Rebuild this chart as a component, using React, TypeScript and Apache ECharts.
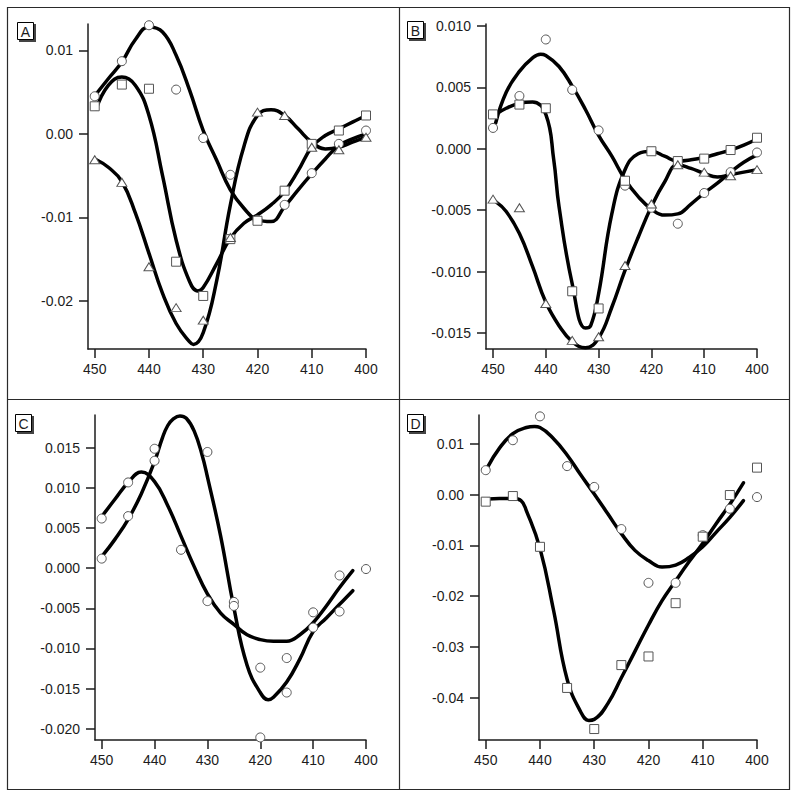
import React, { useEffect, useRef } from "react";
import * as echarts from "echarts";

// ---------- data ----------
const wavelengths = [450, 445, 440, 435, 430, 425, 420, 415, 410, 405, 400];
const xTicks = [450, 440, 430, 420, 410, 400];

// Panel A
const aCircles = [0.0045, 0.0087, 0.013, 0.0053, -0.0005, -0.0049, -0.0103, -0.0085, -0.0047, -0.0012, 0.0004];
const aSquares = [0.0033, 0.0059, 0.0054, -0.0153, -0.0194, -0.0126, -0.0104, -0.0068, -0.0012, 0.0004, 0.0022];
const aTriangles = [-0.0031, -0.0058, -0.0159, -0.0208, -0.0223, -0.0124, 0.0026, 0.0022, -0.0016, -0.0019, -0.0004];
const aFitCircle = [[449.7, 0.0048], [447.5, 0.0066], [445, 0.0086], [442.5, 0.0113], [440, 0.0128], [437.5, 0.0122], [435, 0.0094], [432.5, 0.0052], [430, 0.0004], [427.5, -0.0032], [425, -0.0067], [422.5, -0.0089], [420, -0.0103], [417.5, -0.0105], [415, -0.0087], [412.5, -0.0067], [410, -0.0048], [407.5, -0.003], [405, -0.0014], [402.5, -0.0006], [400, 0.0]];
const aFitSquare = [[449.7, 0.003], [447.5, 0.0058], [445, 0.0068], [442.5, 0.0058], [440, 0.0022], [437.5, -0.005], [435, -0.0127], [432.5, -0.0177], [431, -0.0188], [430, -0.0184], [427.5, -0.0155], [425, -0.0125], [422.5, -0.0107], [420, -0.0097], [417.5, -0.0085], [415, -0.0069], [412.5, -0.0044], [410, -0.0016], [407.5, -0.0002], [405, 0.0006], [402.5, 0.0014], [400, 0.0022]];
const aFitTriangle = [[449.7, -0.0031], [447.5, -0.004], [445, -0.0057], [442.5, -0.0095], [440, -0.0143], [437.5, -0.0191], [435, -0.0227], [432.5, -0.0249], [431.8, -0.0252], [430, -0.0238], [427.5, -0.0175], [425, -0.0085], [422.5, -0.0015], [420, 0.0022], [417.5, 0.0029], [415, 0.0022], [412.5, 0.0006], [410, -0.001], [407.5, -0.0018], [405, -0.0016], [402.5, -0.001], [400, -0.0004]];

// Panel B
const bCircles = [0.0017, 0.0043, 0.0089, 0.0048, 0.0015, -0.003, -0.0048, -0.0061, -0.0036, -0.0019, -0.0003];
const bSquares = [0.0028, 0.0036, 0.0033, -0.0116, -0.013, -0.0026, -0.0002, -0.001, -0.0008, -0.0001, 0.0009];
const bTriangles = [-0.0041, -0.0048, -0.0126, -0.0156, -0.0153, -0.0095, -0.0045, -0.0013, -0.0019, -0.0022, -0.0017];
const bFitCircle = [[449.5, 0.0021], [447.5, 0.0046], [445, 0.0063], [442.5, 0.0074], [441, 0.0077], [440, 0.0076], [437.5, 0.0067], [435, 0.0051], [432.5, 0.0032], [430, 0.0011], [427.5, -0.0006], [425, -0.0025], [422.5, -0.0039], [420, -0.0049], [417.5, -0.0054], [415, -0.0053], [412.5, -0.0045], [410, -0.0036], [407.5, -0.0028], [405, -0.0019], [402.5, -0.0011], [400, -0.0005]];
const bFitSquare = [[449.5, 0.0028], [447.5, 0.0033], [445, 0.0037], [442.5, 0.0038], [440, 0.0028], [438.5, -0.0009], [437.5, -0.0047], [435, -0.011], [432.5, -0.0146], [431.5, -0.0144], [430, -0.0118], [427.5, -0.0053], [425, -0.0017], [422.5, -0.0004], [420, -0.0002], [417.5, -0.0006], [415, -0.001], [412.5, -0.0009], [410, -0.0007], [407.5, -0.0004], [405, -0.0001], [402.5, 0.0003], [400, 0.0008]];
const bFitTriangle = [[449.5, -0.0043], [447.5, -0.0051], [445, -0.0069], [442.5, -0.0096], [440, -0.0125], [437.5, -0.0144], [435, -0.0157], [432.5, -0.0162], [430, -0.0154], [427.5, -0.0129], [425, -0.0099], [422.5, -0.0072], [420, -0.0047], [417.5, -0.0027], [415, -0.0013], [412.5, -0.0016], [410, -0.002], [407.5, -0.0023], [405, -0.0021], [402.5, -0.0019], [400, -0.0017]];

// Panel C
const cSet1 = [0.0062, 0.0107, 0.0134, 0.0023, -0.0041, -0.0042, -0.0124, -0.0112, -0.0055, -0.0009, -0.0001];
const cSet2 = [0.0012, 0.0065, 0.0149, null, 0.0145, -0.0047, -0.0211, -0.0155, -0.0074, -0.0054, null];
const cFit1 = [[449.7, 0.0067], [447.5, 0.0086], [445, 0.0107], [442.5, 0.012], [440, 0.0108], [437.5, 0.0078], [435, 0.004], [432.5, 0.0002], [430, -0.0032], [427.5, -0.0056], [425, -0.007], [422.5, -0.0083], [420, -0.0089], [417.5, -0.0091], [415, -0.0091], [412.5, -0.0083], [410, -0.0068], [407.5, -0.0047], [405, -0.0024], [402.5, -0.0003]];
const cFit2 = [[449.7, 0.0017], [447.5, 0.0036], [445, 0.0061], [442.5, 0.0093], [440, 0.0133], [438.5, 0.0163], [437.5, 0.0178], [436.5, 0.0186], [435.2, 0.019], [434, 0.0187], [432.5, 0.0171], [431, 0.0141], [430, 0.0114], [427.5, 0.004], [425, -0.0049], [422.5, -0.0121], [420, -0.0155], [418.5, -0.0164], [417.5, -0.0161], [415, -0.0142], [412.5, -0.0113], [410, -0.0079], [407.5, -0.0062], [405, -0.0045], [402.5, -0.0028]];

// Panel D
const dCircles = [0.0048, 0.0107, 0.0154, 0.0056, 0.0015, -0.0068, -0.0174, -0.0174, -0.008, -0.0028, -0.0005];
const dSquares = [-0.0014, -0.0003, -0.0103, -0.0381, -0.0462, -0.0336, -0.0319, -0.0214, -0.0083, -0.0001, 0.0053];
const dFitCircle = [[449.6, 0.0055], [447.5, 0.0091], [445, 0.012], [442.5, 0.0132], [441, 0.0134], [440, 0.0132], [437.5, 0.011], [435, 0.0078], [432.5, 0.0039], [430, 0.0001], [427.5, -0.0038], [425, -0.0077], [422.5, -0.011], [420, -0.013], [417.5, -0.0143], [415, -0.0139], [412.5, -0.0124], [410, -0.0103], [407.5, -0.0074], [405, -0.0045], [402.5, -0.0012]];
const dFitSquare = [[449.6, -0.0009], [447.5, -0.0008], [445, -0.0008], [443.5, -0.0012], [442.5, -0.0032], [440, -0.0106], [437.5, -0.0228], [435, -0.0364], [432.5, -0.0428], [431, -0.0445], [430, -0.0443], [427.5, -0.0412], [425, -0.0361], [422.5, -0.0309], [420, -0.0257], [417.5, -0.0209], [415, -0.017], [412.5, -0.0132], [410, -0.0096], [407.5, -0.0057], [405, -0.0019], [402.5, 0.0023]];

const panelLabels = ["A", "B", "C", "D"];
const aYTicks = [-0.02, -0.01, 0, 0.01];
const bYTicks = [-0.015, -0.01, -0.005, 0, 0.005, 0.01];
const cYTicks = [-0.02, -0.015, -0.01, -0.005, 0, 0.005, 0.01, 0.015];
const dYTicks = [-0.04, -0.03, -0.02, -0.01, 0, 0.01];

const FONT = "'Liberation Sans', Arial, Helvetica, sans-serif";
const INK = "#1c1c1c";

function pairs(ys: (number | null)[]) {
  const out: number[][] = [];
  ys.forEach((y, i) => {
    if (y !== null && y !== undefined) out.push([wavelengths[i], y]);
  });
  return out;
}

export default function App() {
  const ref = useRef<HTMLDivElement>(null);

  useEffect(() => {
    if (!ref.current) return;
    const chart = echarts.init(ref.current, null, { renderer: "svg" });

    const panels = [
      {
        grid: { left: 88, top: 24, width: 278, height: 325 },
        xMax: 451.24, yMin: -0.02575, yMax: 0.01315, yTicks: aYTicks, dec: 2,
        fits: [aFitCircle, aFitSquare, aFitTriangle],
        marks: [
          { data: aCircles, symbol: "circle" },
          { data: aSquares, symbol: "rect" },
          { data: aTriangles, symbol: "triangle" },
        ],
        box: [17, 22],
      },
      {
        grid: { left: 486, top: 24, width: 271, height: 325 },
        xMax: 451.33, yMin: -0.0163, yMax: 0.01016, yTicks: bYTicks, dec: 3,
        fits: [bFitCircle, bFitSquare, bFitTriangle],
        marks: [
          { data: bCircles, symbol: "circle" },
          { data: bSquares, symbol: "rect" },
          { data: bTriangles, symbol: "triangle" },
        ],
        box: [407, 21],
      },
      {
        grid: { left: 95, top: 415, width: 271, height: 325 },
        xMax: 451.27, yMin: -0.02142, yMax: 0.01911, yTicks: cYTicks, dec: 3,
        fits: [cFit1, cFit2],
        marks: [
          { data: cSet1, symbol: "circle" },
          { data: cSet2, symbol: "circle" },
        ],
        box: [15, 414],
      },
      {
        grid: { left: 479, top: 415, width: 278, height: 325 },
        xMax: 451.24, yMin: -0.04836, yMax: 0.01567, yTicks: dYTicks, dec: 2,
        fits: [dFitCircle, dFitSquare],
        marks: [
          { data: dCircles, symbol: "circle" },
          { data: dSquares, symbol: "rect" },
        ],
        box: [407, 414],
      },
    ];

    const axisLineStyle = { color: INK, width: 1.5 };
    const labelStyle = { fontSize: 14, fontFamily: FONT, color: INK };

    const grids: any[] = [];
    const xAxes: any[] = [];
    const yAxes: any[] = [];
    const series: any[] = [];
    const graphics: any[] = [];

    panels.forEach((p, i) => {
      grids.push({ ...p.grid, containLabel: false });
      xAxes.push({
        gridIndex: i,
        type: "value",
        min: 400,
        max: p.xMax,
        inverse: true,
        axisLine: { show: true, onZero: false, lineStyle: axisLineStyle },
        axisTick: { show: true, inside: false, length: 9, customValues: xTicks, lineStyle: axisLineStyle },
        axisLabel: { ...labelStyle, margin: 13, customValues: xTicks, formatter: (v: number) => String(Math.round(v)) },
        splitLine: { show: false },
      });
      yAxes.push({
        gridIndex: i,
        type: "value",
        min: p.yMin,
        max: p.yMax,
        axisLine: { show: true, onZero: false, lineStyle: axisLineStyle },
        axisTick: { show: true, inside: false, length: 9, customValues: p.yTicks, lineStyle: axisLineStyle },
        axisLabel: { ...labelStyle, margin: 15, customValues: p.yTicks, formatter: (v: number) => v.toFixed(p.dec) },
        splitLine: { show: false },
      });
      p.fits.forEach((f) => {
        series.push({
          type: "line",
          xAxisIndex: i,
          yAxisIndex: i,
          data: f,
          showSymbol: false,
          symbol: "none",
          smooth: 0.45,
          silent: true,
          z: 2,
          lineStyle: { color: "#000", width: 3.5, cap: "round", join: "round" },
        });
      });
      p.marks.forEach((m) => {
        series.push({
          type: "scatter",
          xAxisIndex: i,
          yAxisIndex: i,
          data: pairs(m.data),
          symbol: m.symbol,
          symbolSize: m.symbol === "triangle" ? [10, 8] : 9,
          silent: true,
          z: 3,
          itemStyle: { color: "#fff", borderColor: "#555", borderWidth: 1, opacity: 1 },
        });
      });
      const [bx, by] = p.box;
      graphics.push(
        { type: "rect", shape: { x: bx + 2, y: by + 2, width: 17, height: 18 }, style: { fill: "#444" }, z: 10 },
        { type: "rect", shape: { x: bx + 0.5, y: by + 0.5, width: 16, height: 17 }, style: { fill: "#fff", stroke: "#000", lineWidth: 1 }, z: 11 },
        { type: "text", x: bx + 8.5, y: by + 9.5, style: { text: panelLabels[i], fontSize: 14, fontFamily: FONT, fill: INK, align: "center", verticalAlign: "middle" }, z: 12 }
      );
    });

    graphics.push(
      { type: "rect", shape: { x: 7.5, y: 7.5, width: 782, height: 782 }, style: { fill: "none", stroke: "#2a2a2a", lineWidth: 1.2 }, z: 5 },
      { type: "line", shape: { x1: 399.5, y1: 7.5, x2: 399.5, y2: 789.5 }, style: { stroke: "#2a2a2a", lineWidth: 1.2 }, z: 5 },
      { type: "line", shape: { x1: 7.5, y1: 399.5, x2: 789.5, y2: 399.5 }, style: { stroke: "#2a2a2a", lineWidth: 1.2 }, z: 5 }
    );

    chart.setOption({
      animation: false,
      backgroundColor: "#fff",
      grid: grids,
      xAxis: xAxes,
      yAxis: yAxes,
      series,
      graphic: graphics,
    });

    return () => chart.dispose();
  }, []);

  return (
    <div
      ref={ref}
      style={{ position: "fixed", left: 0, top: 0, width: 800, height: 799, background: "#fff" }}
    />
  );
}
